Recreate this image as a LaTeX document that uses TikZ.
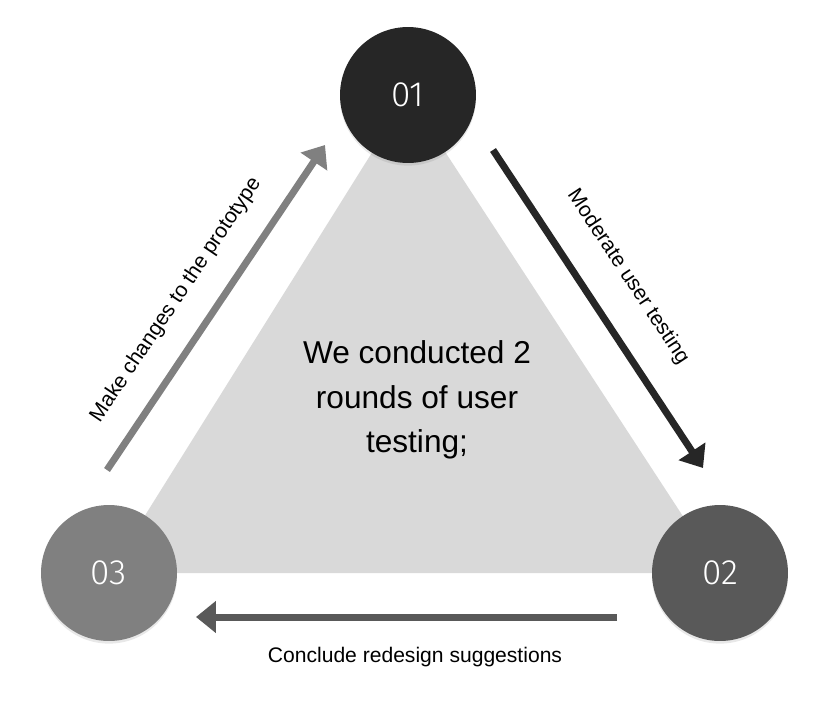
\documentclass[tikz,border=0pt]{standalone}
\usepackage{fontspec}
\setmainfont{Liberation Sans}
\newfontfamily\numfont{Fira Sans Light}
\usetikzlibrary{arrows.meta,shadows}
\definecolor{stepone}{HTML}{262626}
\definecolor{steptwo}{HTML}{595959}
\definecolor{stepthree}{HTML}{808080}
\definecolor{trigray}{HTML}{D9D9D9}
\tikzset{
  stepdot/.style={circle, minimum size=2.72cm, inner sep=0pt, text=white,
    font=\numfont\fontsize{20}{24}\selectfont,
    drop shadow={opacity=0.18, shadow xshift=0pt, shadow yshift=-1.5pt}},
  flow/.style={line width=0.14cm, -{Triangle[length=0.4cm,width=0.62cm]}},
  flowtext/.style={font=\fontsize{12}{14}\selectfont}
}
\begin{document}
\begin{tikzpicture}[x=0.02cm,y=-0.02cm]
        \useasboundingbox (0,0) rectangle (816,714);
        % corners of the cycle
        \coordinate (P1) at (408,95);
        \coordinate (P2) at (720,573);
        \coordinate (P3) at (109,573);
        \fill[trigray] (P1)--(P2)--(P3)--cycle;
        \node[align=center, font=\fontsize{18}{25.5}\selectfont] (note) at (417,400)
            {We conducted 2\\rounds of user\\testing;};
        % arrow ends
        \coordinate (A1) at (493,150);
        \coordinate (A2) at (703,468);
        \coordinate (B1) at (617,617);
        \coordinate (B2) at (196,617);
        \coordinate (C1) at (107,470);
        \coordinate (C2) at (325,145);
        \draw[flow,stepone] (A1)--(A2);
        \draw[flow,steptwo] (B1)--(B2);
        \draw[flow,stepthree] (C1)--(C2);
        \node[flowtext, rotate=-56.5] (moderate) at (628,277) {Moderate user testing};
        \node[flowtext] (conclude) at (415,657) {Conclude redesign suggestions};
        \node[flowtext, rotate=56.1] (changes) at (176,300) {Make changes to the prototype};
        % the three steps
        \node[stepdot, fill=stepone] (s1) at (P1) {01};
        \node[stepdot, fill=steptwo] (s2) at (P2) {02};
        \node[stepdot, fill=stepthree] (s3) at (P3) {03};
    \end{tikzpicture}
\end{document}
